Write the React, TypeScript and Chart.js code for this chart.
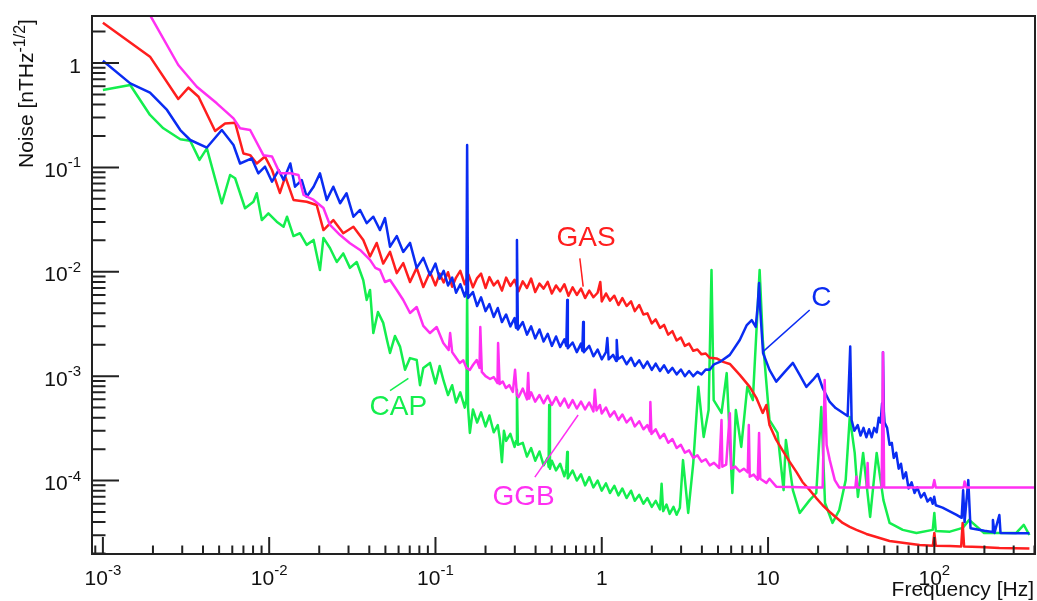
import React, { useEffect, useRef } from "react";
import { Chart, registerables } from "chart.js";

Chart.register(...registerables);

// ---------- data (frequency [Hz], noise [nT/sqrt(Hz)]) ----------
const gasData: [number, number][] = [
  [1e-3, 2.43], [1.92e-3, 1.15], [2.84e-3, 0.452], [3.27e-3, 0.58], [3.76e-3, 0.475], [4.73e-3, 0.223],
  [5.43e-3, 0.264], [6.24e-3, 0.268], [7.0e-3, 0.136], [7.68e-3, 0.131], [8.42e-3, 0.109], [9.44e-3, 0.127],
  [1.04e-2, 0.0944], [1.16e-2, 0.0569], [1.25e-2, 0.0815], [1.4e-2, 0.0488], [1.68e-2, 0.0469], [1.93e-2, 0.0436],
  [2.12e-2, 0.0251], [2.43e-2, 0.0313], [2.79e-2, 0.0234], [3.21e-2, 0.027], [3.68e-2, 0.0202], [4.04e-2, 0.014],
  [4.43e-2, 0.0189], [4.85e-2, 0.012], [5.33e-2, 0.0155], [5.85e-2, 9.7e-3], [6.4e-2, 0.0121], [7.03e-2, 7.98e-3],
  [7.71e-2, 0.0109], [8.45e-2, 7.15e-3], [9.27e-2, 9.95e-3],
  [0.1, 7.4e-3], [0.106, 9.6e-3], [0.112, 7.9e-3], [0.119, 9.9e-3], [0.126, 7.2e-3], [0.133, 8.8e-3],
  [0.141, 1.02e-2], [0.15, 7.6e-3], [0.158, 9.4e-3], [0.168, 7.1e-3], [0.178, 8.7e-3], [0.188, 9.6e-3],
  [0.2, 7.0e-3], [0.211, 8.9e-3], [0.224, 7.4e-3], [0.237, 8.2e-3], [0.251, 6.6e-3], [0.266, 8.8e-3],
  [0.282, 7.3e-3], [0.299, 8.4e-3], [0.316, 6.5e-3], [0.335, 8.1e-3], [0.355, 7.0e-3], [0.376, 8.6e-3],
  [0.398, 6.4e-3], [0.422, 7.7e-3], [0.447, 6.9e-3], [0.473, 8.0e-3], [0.501, 6.2e-3], [0.531, 7.4e-3],
  [0.562, 6.5e-3], [0.596, 7.6e-3], [0.631, 5.9e-3], [0.668, 7.1e-3], [0.708, 6.0e-3], [0.75, 6.9e-3],
  [0.794, 5.6e-3], [0.841, 6.6e-3], [0.891, 5.7e-3], [0.944, 6.3e-3], [0.98, 8.0e-3], [1.0, 5.2e-3],
  [1.06, 6.2e-3], [1.12, 5.3e-3], [1.19, 5.9e-3], [1.26, 4.8e-3], [1.33, 5.6e-3], [1.41, 4.7e-3],
  [1.5, 5.2e-3], [1.58, 4.2e-3], [1.68, 4.8e-3], [1.78, 3.9e-3], [1.88, 4.0e-3], [2.0, 3.2e-3],
  [2.11, 3.5e-3], [2.24, 2.9e-3], [2.37, 3.1e-3], [2.51, 2.5e-3], [2.66, 2.7e-3], [2.82, 2.2e-3],
  [2.99, 2.35e-3], [3.16, 1.95e-3], [3.35, 2.05e-3], [3.55, 1.75e-3], [3.76, 1.8e-3], [3.98, 1.62e-3],
  [4.22, 1.65e-3], [4.46, 1.5e-3], [4.9, 1.48e-3], [5.37, 1.37e-3], [5.89, 1.31e-3], [6.76, 1.03e-3],
  [7.76, 7.9e-4], [8.5, 6.2e-4], [9.29, 4.45e-4], [9.77, 5.3e-4], [10.2, 3.4e-4], [11.2, 2.45e-4],
  [12.2, 1.96e-4], [13.5, 1.51e-4], [14.8, 1.21e-4], [16.1, 9.7e-5], [17.8, 8.1e-5], [19.5, 6.8e-5],
  [21.3, 5.8e-5], [23.5, 5.0e-5], [25.8, 4.4e-5], [28.1, 3.93e-5], [31, 3.6e-5], [34, 3.37e-5],
  [39, 3.08e-5], [44.8, 2.88e-5], [53.8, 2.64e-5], [66.2, 2.52e-5], [81.5, 2.41e-5], [98, 2.38e-5],
  [100, 3.15e-5], [102, 2.38e-5], [124, 2.36e-5], [145, 2.34e-5], [148, 3.93e-5], [151, 2.33e-5],
  [187, 2.31e-5], [246, 2.26e-5], [373, 2.24e-5],
];

const cData: [number, number][] = [
  [1e-3, 1.05], [1.46e-3, 0.638], [1.92e-3, 0.52], [2.43e-3, 0.355], [2.92e-3, 0.228], [3.35e-3, 0.183],
  [4.22e-3, 0.155], [5.19e-3, 0.228], [6.1e-3, 0.164], [6.68e-3, 0.109], [7.86e-3, 0.122], [8.6e-3, 0.0877],
  [9.44e-3, 0.1016], [1.04e-2, 0.073], [1.14e-2, 0.0944], [1.22e-2, 0.0757], [1.34e-2, 0.109], [1.43e-2, 0.0653],
  [1.57e-2, 0.0757], [1.68e-2, 0.0524], [1.85e-2, 0.0653], [2.02e-2, 0.0877], [2.22e-2, 0.0488], [2.43e-2, 0.0653],
  [2.67e-2, 0.0453], [2.92e-2, 0.0565], [3.21e-2, 0.0337], [3.52e-2, 0.0391], [3.86e-2, 0.0292], [4.23e-2, 0.0337],
  [4.64e-2, 0.0251], [4.97e-2, 0.0327], [5.33e-2, 0.0174], [5.85e-2, 0.022], [6.4e-2, 0.0155], [7.03e-2, 0.0189],
  [7.71e-2, 0.0109], [8.45e-2, 0.0136], [9.27e-2, 9.3e-3],
  [0.1, 1.2e-2], [0.106, 8.6e-3], [0.112, 1.02e-2], [0.119, 7.4e-3], [0.126, 8.8e-3], [0.133, 6.3e-3],
  [0.141, 7.6e-3], [0.15, 5.8e-3], [0.1535, 6.6e-3], [0.155, 0.164], [0.157, 5.6e-3], [0.168, 6.4e-3],
  [0.178, 4.7e-3], [0.188, 5.7e-3], [0.2, 4.2e-3], [0.211, 4.9e-3], [0.224, 3.7e-3], [0.237, 4.5e-3],
  [0.251, 3.3e-3], [0.266, 3.9e-3], [0.282, 3.0e-3], [0.299, 3.6e-3], [0.305, 2.9e-3], [0.309, 0.0202],
  [0.313, 2.8e-3], [0.335, 3.3e-3], [0.355, 2.5e-3], [0.376, 3.0e-3], [0.398, 2.3e-3], [0.422, 2.8e-3],
  [0.447, 2.15e-3], [0.473, 2.55e-3], [0.501, 1.95e-3], [0.531, 2.4e-3], [0.562, 1.9e-3], [0.596, 2.25e-3],
  [0.612, 1.95e-3], [0.62, 5.37e-3], [0.625, 1.85e-3], [0.668, 2.1e-3], [0.708, 1.7e-3], [0.75, 2.05e-3],
  [0.764, 1.75e-3], [0.773, 3.3e-3], [0.78, 1.7e-3], [0.841, 1.95e-3], [0.891, 1.55e-3], [0.944, 1.8e-3],
  [1.0, 1.45e-3], [1.06, 1.7e-3], [1.08, 2.32e-3], [1.1, 1.45e-3], [1.17, 1.6e-3], [1.22, 1.4e-3],
  [1.23, 2.22e-3], [1.25, 1.45e-3], [1.33, 1.55e-3], [1.41, 1.3e-3], [1.5, 1.5e-3], [1.58, 1.25e-3],
  [1.68, 1.42e-3], [1.78, 1.2e-3], [1.88, 1.38e-3], [2.0, 1.15e-3], [2.11, 1.32e-3], [2.24, 1.12e-3],
  [2.37, 1.27e-3], [2.51, 1.08e-3], [2.66, 1.2e-3], [2.82, 1.04e-3], [2.99, 1.16e-3], [3.16, 1.0e-3],
  [3.35, 1.12e-3], [3.55, 1.0e-3], [3.76, 1.1e-3], [3.98, 1.04e-3], [4.22, 1.16e-3], [4.46, 1.15e-3],
  [4.73, 1.3e-3], [5.13, 1.37e-3], [5.89, 1.6e-3], [6.76, 2.22e-3], [7.45, 3.09e-3], [7.98, 3.45e-3],
  [8.43, 2.96e-3], [8.67, 4.8e-3], [8.83, 7.8e-3], [8.98, 4.3e-3], [9.33, 1.67e-3], [10.2, 1.15e-3],
  [11.2, 8.86e-4], [12.6, 1.1e-3], [14.1, 1.34e-3], [15.5, 1.03e-3], [17, 7.9e-4], [18.6, 9.2e-4],
  [19.9, 1.05e-3], [21.3, 7.7e-4], [23.5, 5.66e-4], [25.5, 4.95e-4], [27.7, 4.54e-4], [30.1, 4.16e-4],
  [31.2, 1.92e-3], [31.8, 3.8e-4], [33, 3.0e-4], [34.6, 3.4e-4], [36, 2.7e-4], [37.5, 3.2e-4],
  [39, 2.6e-4], [40.5, 3.1e-4], [42, 2.6e-4], [43.5, 3.2e-4], [45, 2.9e-4], [46.3, 4.0e-4],
  [47.5, 3.6e-4], [48.5, 5.5e-4], [49.1, 1.7e-3], [49.7, 4.6e-4], [50.2, 3.6e-4], [52, 3.2e-4],
  [53.8, 2.2e-4], [55.5, 2.3e-4], [57, 1.65e-4], [59, 1.85e-4], [61, 1.3e-4], [63, 1.45e-4],
  [65, 1.05e-4], [67.5, 1.2e-4], [70, 8.4e-5], [73, 9.6e-5], [76, 7.6e-5], [79, 8.6e-5],
  [83, 6.9e-5], [87, 7.6e-5], [91, 6.3e-5], [95, 6.8e-5], [97.8, 6.0e-5], [99.8, 7.0e-5],
  [102, 5.8e-5], [112, 5.5e-5], [136, 4.7e-5], [146, 4.4e-5], [149, 8.1e-5], [152, 4.0e-5],
  [160, 1.01e-4], [165, 3.5e-5], [200, 3.3e-5], [224, 3.22e-5], [225, 4.2e-5], [230, 3.15e-5],
  [246, 4.68e-5], [250, 3.15e-5], [311, 3.13e-5], [373, 3.13e-5],
];

const capData: [number, number][] = [
  [1e-3, 0.551], [1.46e-3, 0.615], [1.92e-3, 0.318], [2.31e-3, 0.237], [2.92e-3, 0.186], [3.35e-3, 0.18],
  [3.81e-3, 0.118], [4.22e-3, 0.152], [5.19e-3, 0.0453], [5.82e-3, 0.0846], [6.24e-3, 0.0787], [7.16e-3, 0.0406],
  [8.04e-3, 0.0469], [8.42e-3, 0.0565], [9.03e-3, 0.0313], [9.89e-3, 0.0363], [1.11e-2, 0.0302], [1.22e-2, 0.027],
  [1.28e-2, 0.0337], [1.4e-2, 0.022], [1.53e-2, 0.0234], [1.68e-2, 0.0181], [1.85e-2, 0.0202], [2.02e-2, 0.0104],
  [2.12e-2, 0.0211], [2.32e-2, 0.0169], [2.55e-2, 0.0124], [2.79e-2, 0.015], [3.06e-2, 0.0109], [3.36e-2, 0.0124],
  [3.68e-2, 8.3e-3], [3.86e-2, 5.37e-3], [4.04e-2, 6.7e-3], [4.23e-2, 2.59e-3], [4.51e-2, 4.12e-3], [4.85e-2, 3.24e-3],
  [5.11e-2, 2.22e-3], [5.33e-2, 1.67e-3], [5.71e-2, 2.43e-3], [6.12e-2, 1.92e-3], [6.56e-2, 1.15e-3], [7.03e-2, 1.49e-3],
  [7.71e-2, 1.43e-3], [8.07e-2, 8.2e-4], [8.45e-2, 1.2e-3], [9.27e-2, 1.34e-3],
  [0.1, 8.5e-4], [0.106, 1.25e-3], [0.112, 9.0e-4], [0.119, 6.6e-4], [0.126, 8.2e-4], [0.133, 5.6e-4],
  [0.141, 7.0e-4], [0.15, 5.0e-4], [0.1535, 6.0e-4], [0.155, 6.27e-3], [0.157, 5.0e-4], [0.161, 2.86e-4],
  [0.168, 4.8e-4], [0.178, 3.6e-4], [0.188, 4.5e-4], [0.2, 3.3e-4], [0.211, 4.2e-4], [0.224, 2.9e-4],
  [0.237, 3.4e-4], [0.244, 2.5e-4], [0.251, 1.5e-4], [0.258, 3.0e-4], [0.266, 2.4e-4], [0.282, 2.8e-4],
  [0.299, 2.1e-4], [0.305, 2.4e-4], [0.309, 7.4e-4], [0.313, 2.2e-4], [0.335, 2.3e-4], [0.355, 1.7e-4],
  [0.376, 2.05e-4], [0.398, 1.55e-4], [0.422, 1.9e-4], [0.447, 1.4e-4], [0.473, 1.65e-4], [0.479, 1.35e-4],
  [0.483, 5.3e-4], [0.488, 1.3e-4], [0.501, 1.55e-4], [0.531, 1.25e-4], [0.562, 1.45e-4], [0.596, 1.1e-4],
  [0.612, 1.3e-4], [0.62, 1.88e-4], [0.625, 1.05e-4], [0.668, 1.25e-4], [0.708, 1.0e-4], [0.75, 1.15e-4],
  [0.794, 9.0e-5], [0.841, 1.08e-4], [0.891, 8.6e-5], [0.944, 1.0e-4], [1.0, 8.0e-5], [1.06, 9.4e-5],
  [1.12, 7.6e-5], [1.19, 8.9e-5], [1.26, 7.2e-5], [1.33, 8.4e-5], [1.41, 6.8e-5], [1.5, 8.0e-5],
  [1.58, 6.4e-5], [1.68, 7.3e-5], [1.78, 6.0e-5], [1.88, 6.8e-5], [2.0, 5.6e-5], [2.11, 6.4e-5],
  [2.24, 5.3e-5], [2.29, 9.3e-5], [2.34, 5.1e-5], [2.45, 5.9e-5], [2.56, 4.8e-5], [2.7, 5.6e-5],
  [2.82, 4.7e-5], [2.95, 5.5e-5], [3.08, 1.57e-4], [3.31, 4.9e-5], [3.55, 1.47e-4], [3.81, 7.9e-4],
  [4.1, 2.62e-4], [4.39, 4.74e-4], [4.57, 0.0104], [4.71, 5.9e-4], [5.25, 4.45e-4], [5.64, 1.07e-3],
  [6.1, 7.6e-5], [6.4, 4.74e-4], [6.9, 2.1e-4], [7.5, 7.9e-4], [8.1, 5.9e-4], [8.9, 0.0104],
  [9.3, 2.22e-3], [10.2, 3.8e-4], [11.4, 2.86e-4], [12.4, 8.1e-5], [12.8, 2.45e-4], [14.1, 8.1e-5],
  [15.5, 4.9e-5], [17.8, 6.5e-5], [19.5, 7.6e-5], [20.9, 5.07e-4], [22, 6.1e-5], [24.4, 3.93e-5],
  [26.8, 5.22e-5], [29.3, 1.01e-4], [31, 4.07e-4], [33.2, 1.84e-4], [34.7, 6.97e-5], [37.3, 1.84e-4],
  [41.1, 4.48e-5], [45, 1.84e-4], [49.4, 6.5e-5], [53.8, 3.93e-5], [64.6, 3.37e-5], [78, 3.15e-5],
  [97.8, 3.37e-5], [100, 4.9e-5], [102, 3.29e-5], [124, 3.24e-5], [148, 3.52e-5], [162, 4.2e-5],
  [199, 3.15e-5], [311, 3.15e-5], [345, 3.76e-5], [373, 3.01e-5],
];

const ggbData: [number, number][] = [
  [1e-3, 18], [1.46e-3, 6.2], [1.97e-3, 2.68], [2.84e-3, 0.957], [3.67e-3, 0.593], [4.84e-3, 0.411],
  [6.1e-3, 0.295], [6.68e-3, 0.237], [7.68e-3, 0.228], [9.23e-3, 0.131], [1.04e-2, 0.127], [1.16e-2, 0.0877],
  [1.34e-2, 0.0877], [1.5e-2, 0.0846], [1.61e-2, 0.0544], [1.85e-2, 0.0488], [2.12e-2, 0.0408], [2.32e-2, 0.0281],
  [2.67e-2, 0.0225], [3.06e-2, 0.0188], [3.52e-2, 0.0162], [4.04e-2, 0.013], [4.35e-2, 0.0109], [4.64e-2, 0.0104],
  [4.97e-2, 7.98e-3], [5.33e-2, 8.34e-3], [5.85e-2, 6.7e-3], [6.4e-2, 5.37e-3], [7.03e-2, 4.03e-3], [7.71e-2, 4.6e-3],
  [8.45e-2, 3.03e-3], [9.27e-2, 2.59e-3], [0.1017, 2.96e-3], [0.1114, 2.08e-3], [0.12, 1.78e-3], [0.1225, 2.59e-3],
  [0.126, 1.7e-3], [0.133, 1.5e-3], [0.14, 1.34e-3], [0.147, 1.42e-3], [0.1535, 1.2e-3], [0.161, 1.15e-3],
  [0.168, 1.28e-3], [0.177, 1.43e-3], [0.184, 1.2e-3], [0.186, 2.96e-3], [0.19, 1.1e-3], [0.2, 1.0e-3],
  [0.213, 9.4e-4], [0.224, 9.8e-4], [0.236, 8.6e-4], [0.238, 2.08e-3], [0.243, 8.4e-4], [0.254, 8.9e-4],
  [0.265, 7.7e-4], [0.278, 8.2e-4], [0.292, 7.06e-4], [0.301, 1.15e-3], [0.309, 6.6e-4], [0.316, 6.3e-4],
  [0.335, 7.6e-4], [0.355, 6.0e-4], [0.361, 1.07e-3], [0.366, 6.1e-4], [0.376, 7.0e-4], [0.398, 5.7e-4],
  [0.422, 6.6e-4], [0.447, 5.5e-4], [0.473, 6.5e-4], [0.501, 5.3e-4], [0.531, 6.3e-4], [0.562, 5.2e-4],
  [0.596, 6.1e-4], [0.631, 5.0e-4], [0.668, 5.9e-4], [0.708, 4.9e-4], [0.75, 5.7e-4], [0.794, 4.8e-4],
  [0.841, 5.6e-4], [0.891, 4.6e-4], [0.909, 7.4e-4], [0.93, 4.7e-4], [0.975, 5.3e-4], [1.0, 4.4e-4],
  [1.06, 5.0e-4], [1.12, 4.1e-4], [1.19, 4.6e-4], [1.26, 3.8e-4], [1.33, 4.3e-4], [1.41, 3.6e-4],
  [1.5, 4.0e-4], [1.58, 3.3e-4], [1.68, 3.7e-4], [1.78, 3.1e-4], [1.88, 3.4e-4], [1.95, 2.95e-4],
  [1.96, 5.66e-4], [1.99, 2.8e-4], [2.11, 3.1e-4], [2.24, 2.55e-4], [2.37, 2.8e-4], [2.51, 2.3e-4],
  [2.66, 2.5e-4], [2.82, 2.05e-4], [2.99, 2.2e-4], [3.16, 1.85e-4], [3.35, 1.95e-4], [3.55, 1.65e-4],
  [3.76, 1.75e-4], [3.98, 1.52e-4], [4.22, 1.6e-4], [4.46, 1.4e-4], [4.73, 1.48e-4], [5.09, 1.32e-4],
  [5.25, 3.8e-4], [5.31, 1.36e-4], [5.6, 1.42e-4], [5.89, 4.41e-4], [6.01, 1.3e-4], [6.35, 1.36e-4],
  [6.76, 1.22e-4], [7.15, 1.3e-4], [7.55, 1.2e-4], [7.66, 3.41e-4], [7.76, 1.09e-4], [8.2, 1.14e-4],
  [8.67, 1.02e-4], [8.83, 2.86e-4], [8.98, 1.04e-4], [9.77, 9.5e-5], [10.2, 1.04e-4], [11.2, 8.74e-5],
  [13.5, 8.7e-5], [17.8, 8.6e-5], [21.3, 8.6e-5], [21.9, 9.2e-4], [22.5, 2.19e-4], [23.5, 1.57e-4],
  [25.2, 1.01e-4], [26.8, 8.6e-5], [33.5, 8.6e-5], [34, 1.09e-4], [34.5, 8.6e-5], [39.2, 8.6e-5],
  [39.7, 1.47e-4], [40.2, 8.6e-5], [48.2, 8.6e-5], [49.1, 1.7e-3], [49.9, 8.6e-5], [97.8, 8.6e-5],
  [100, 1.01e-4], [102, 8.6e-5], [150, 8.6e-5], [152, 9.8e-5], [156, 8.6e-5], [403, 8.6e-5],
];

// axis ticks
const xMajorTicks = [1e-3, 1e-2, 1e-1, 1, 10, 100];
const xTickLabels: [string, string][] = [["10", "-3"], ["10", "-2"], ["10", "-1"], ["1", ""], ["10", ""], ["10", "2"]];
const yMajorTicks = [1, 1e-1, 1e-2, 1e-3, 1e-4];
const yTickLabels: [string, string][] = [["1", ""], ["10", "-1"], ["10", "-2"], ["10", "-3"], ["10", "-4"]];

const RED = "#ff1e1e";
const BLUE = "#0a2cf2";
const GREEN = "#14ee4e";
const MAGENTA = "#ff30f2";
const AXIS = "#222222";
const FONT = '"Liberation Sans", Arial, Helvetica, sans-serif';

// annotation labels: text position and pointer line in data coordinates
const seriesLabels = [
  { text: "GAS", color: RED, f: 0.804, v: 0.0211, from: [0.738, 0.01346], to: [0.773, 7.2e-3] },
  { text: "C", color: BLUE, f: 20.9, v: 5.6e-3, from: [17.8, 4.3e-3], to: [9.33, 1.72e-3] },
  { text: "CAP", color: GREEN, f: 0.0598, v: 5.0e-4, from: [0.0533, 7.26e-4], to: [0.0687, 9.55e-4] },
  { text: "GGB", color: MAGENTA, f: 0.339, v: 6.9e-5, from: [0.396, 1.08e-4], to: [0.721, 4.25e-4] },
];

function drawSupText(ctx: CanvasRenderingContext2D, base: string, sup: string, x: number, y: number, align: "center" | "right", baseSize: number, supSize: number, supRaise: number) {
  ctx.font = `${baseSize}px ${FONT}`;
  const wb = ctx.measureText(base).width;
  ctx.font = `${supSize}px ${FONT}`;
  const ws = sup ? ctx.measureText(sup).width : 0;
  const total = wb + ws;
  const x0 = align === "center" ? x - total / 2 : x - total;
  ctx.textAlign = "left";
  ctx.textBaseline = "alphabetic";
  ctx.font = `${baseSize}px ${FONT}`;
  ctx.fillText(base, x0, y);
  if (sup) {
    ctx.font = `${supSize}px ${FONT}`;
    ctx.fillText(sup, x0 + wb, y - supRaise);
  }
}

const rootStyle = {
  id: "rootStyle",
  afterDraw(chart: any) {
    const { ctx, chartArea: a, scales } = chart;
    const xs = scales.x;
    const ys = scales.y;
    ctx.save();

    // annotation labels
    for (const l of seriesLabels) {
      ctx.strokeStyle = l.color;
      ctx.lineWidth = 1.5;
      ctx.beginPath();
      ctx.moveTo(xs.getPixelForValue(l.from[0]), ys.getPixelForValue(l.from[1]));
      ctx.lineTo(xs.getPixelForValue(l.to[0]), ys.getPixelForValue(l.to[1]));
      ctx.stroke();
      ctx.fillStyle = l.color;
      ctx.font = `28px ${FONT}`;
      ctx.textAlign = "center";
      ctx.textBaseline = "middle";
      ctx.fillText(l.text, xs.getPixelForValue(l.f), ys.getPixelForValue(l.v));
    }

    // frame
    ctx.strokeStyle = AXIS;
    ctx.lineWidth = 2;
    ctx.strokeRect(a.left, a.top, a.right - a.left, a.bottom - a.top);

    // ticks
    ctx.lineWidth = 2;
    ctx.beginPath();
    for (let e = -5; e <= 3; e++) {
      for (let m = 1; m <= 9; m++) {
        const v = m * Math.pow(10, e);
        if (v > xs.min && v < xs.max) {
          const px = xs.getPixelForValue(v);
          const len = m === 1 ? 17 : 8.5;
          ctx.moveTo(px, a.bottom);
          ctx.lineTo(px, a.bottom - len);
        }
        if (v > ys.min && v < ys.max) {
          const py = ys.getPixelForValue(v);
          const len = m === 1 ? 27 : 13.5;
          ctx.moveTo(a.left, py);
          ctx.lineTo(a.left + len, py);
        }
      }
    }
    ctx.stroke();

    // tick labels
    ctx.fillStyle = "#111";
    xMajorTicks.forEach((t, i) => {
      const [b, s] = xTickLabels[i];
      drawSupText(ctx, b, s, xs.getPixelForValue(t), 585, "center", 21, 15, 10);
    });
    yMajorTicks.forEach((t, i) => {
      const [b, s] = yTickLabels[i];
      const py = ys.getPixelForValue(t);
      drawSupText(ctx, b, s, 81, py + 9.5, "right", 21, 15, 9.5);
    });

    // axis titles
    ctx.font = `21px ${FONT}`;
    ctx.textAlign = "right";
    ctx.textBaseline = "alphabetic";
    ctx.fillText("Frequency [Hz]", 1034, 596);

    ctx.save();
    ctx.translate(33, 168);
    ctx.rotate(-Math.PI / 2);
    ctx.textAlign = "left";
    ctx.font = `21px ${FONT}`;
    const p1 = "Noise [nTHz";
    ctx.fillText(p1, 0, 0);
    const w1 = ctx.measureText(p1).width;
    ctx.font = `16px ${FONT}`;
    const p2 = "-1/2";
    ctx.fillText(p2, w1, -8);
    const w2 = ctx.measureText(p2).width;
    ctx.font = `21px ${FONT}`;
    ctx.fillText("]", w1 + w2, 0);
    ctx.restore();

    ctx.restore();
  },
};

function ds(label: string, data: [number, number][], color: string, order: number) {
  return {
    label,
    data: data.map(([x, y]) => ({ x, y })),
    borderColor: color,
    backgroundColor: color,
    borderWidth: 2.5,
    pointRadius: 0,
    tension: 0,
    fill: false,
    borderJoinStyle: "round" as const,
    order,
  };
}

export default function App() {
  const ref = useRef<HTMLCanvasElement | null>(null);
  useEffect(() => {
    if (!ref.current) return;
    const chart = new Chart(ref.current, {
      type: "line",
      data: {
        datasets: [
          ds("GGB", ggbData, MAGENTA, 0),
          ds("C", cData, BLUE, 1),
          ds("GAS", gasData, RED, 2),
          ds("CAP", capData, GREEN, 3),
        ] as any,
      },
      options: {
        animation: false,
        responsive: false,
        devicePixelRatio: 1,
        events: [],
        layout: { padding: { top: 16, right: 2, left: 0, bottom: 0 } },
        plugins: { legend: { display: false }, tooltip: { enabled: false } },
        scales: {
          x: {
            type: "logarithmic",
            min: 8.6e-4,
            max: 403,
            grid: { display: false },
            border: { display: false },
            ticks: { display: false },
            afterFit: (s: any) => { s.height = 47; },
          },
          y: {
            type: "logarithmic",
            min: 1.98e-5,
            max: 2.82,
            grid: { display: false },
            border: { display: false },
            ticks: { display: false },
            afterFit: (s: any) => { s.width = 92; },
          },
        },
      } as any,
      plugins: [rootStyle],
    });
    return () => chart.destroy();
  }, []);
  return (
    <div style={{ position: "absolute", left: 0, top: 0, width: 1037, height: 601, background: "#fff" }}>
      <canvas ref={ref} width={1037} height={601} />
    </div>
  );
}
